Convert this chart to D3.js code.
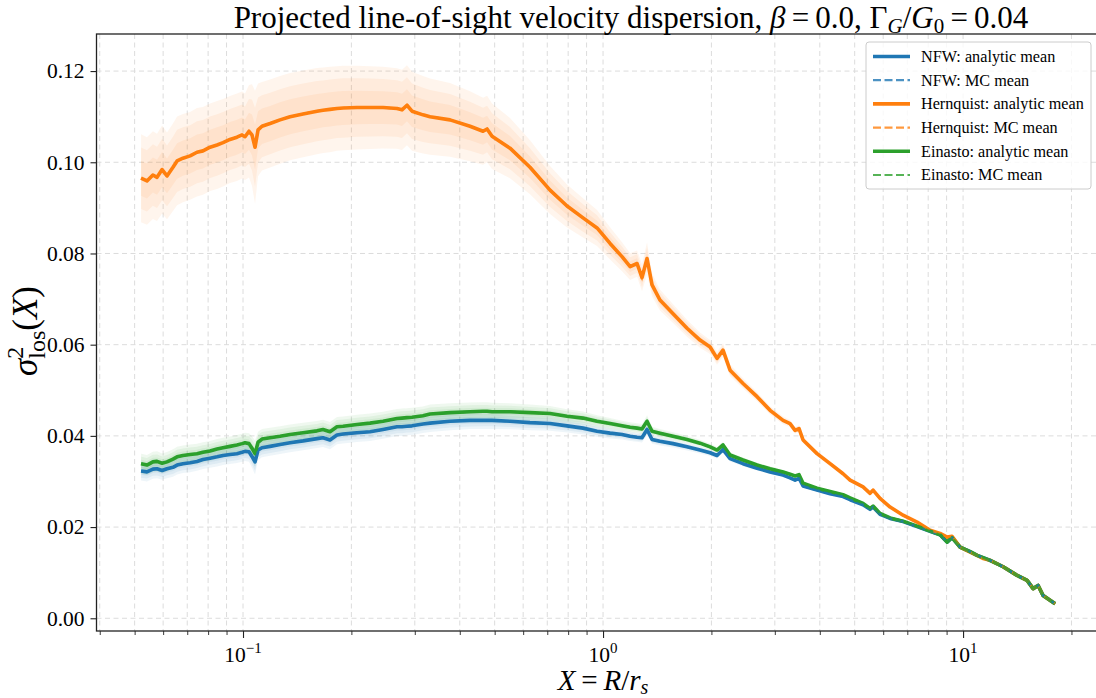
<!DOCTYPE html>
<html lang="en">
<head>
<meta charset="UTF-8">
<title>Projected line-of-sight velocity dispersion</title>
<script src="https://d3js.org/d3.v7.min.js"></script>
<style>
  * { margin: 0; padding: 0; }
  body { background: #fff; }
  svg text { font-family: "Liberation Serif", "DejaVu Serif", serif; fill: #000; }
</style>
</head>
<body>
<svg id="chart" width="1096" height="698"></svg>
<script>
// projected radius X = R/r_s
var xVals = [0.0521, 0.0541, 0.0562, 0.0577, 0.0596, 0.0615, 0.0639, 0.0656, 0.0681, 0.0713,
  0.0745, 0.0774, 0.0810, 0.0847, 0.0880, 0.0920, 0.0962, 0.0994, 0.1013, 0.1039,
  0.1059, 0.1080, 0.1101, 0.1129, 0.1189, 0.1267, 0.1351, 0.1468, 0.1605, 0.1668,
  0.1744, 0.1824, 0.1896, 0.2073, 0.2253, 0.2448, 0.2677, 0.2764, 0.2854, 0.2947,
  0.3162, 0.3307, 0.3758, 0.4271, 0.4642, 0.4763, 0.4917, 0.5516, 0.6268, 0.7125,
  0.7943, 0.8799, 0.9623, 1.046, 1.129, 1.189, 1.243, 1.283, 1.325, 1.368,
  1.439, 1.565, 1.711, 1.859, 1.983, 2.073, 2.154, 2.253, 2.448, 2.678,
  2.910, 3.162, 3.307, 3.415, 3.503, 3.594, 3.930, 4.272, 4.642, 4.855,
  5.275, 5.516, 5.623, 5.880, 6.270, 6.813, 7.451, 8.096, 8.633, 9.028,
  9.320, 9.810, 10.46, 10.94, 11.36, 11.89, 12.92, 14.13, 15.06, 15.65,
  16.16, 16.68, 18.02];

var nfwMean = [0.0323, 0.0321, 0.0327, 0.0328, 0.0324, 0.0328, 0.0331, 0.0336, 0.0339, 0.0341,
  0.0344, 0.0348, 0.0351, 0.0354, 0.0357, 0.0359, 0.0361, 0.0364, 0.0366, 0.0365,
  0.0355, 0.0343, 0.0369, 0.0374, 0.0377, 0.0381, 0.0385, 0.0389, 0.0394, 0.0396,
  0.0391, 0.0402, 0.0404, 0.0407, 0.0409, 0.0414, 0.0420, 0.0420, 0.0421, 0.0422,
  0.0426, 0.0428, 0.0432, 0.0434, 0.0434, 0.0434, 0.0434, 0.0432, 0.0429, 0.0427,
  0.0422, 0.0417, 0.0410, 0.0406, 0.0403, 0.0399, 0.0397, 0.0396, 0.0414, 0.0392,
  0.0388, 0.0383, 0.0376, 0.0369, 0.0363, 0.0357, 0.0370, 0.0350, 0.0339, 0.0329,
  0.0321, 0.0314, 0.0308, 0.0303, 0.0307, 0.0290, 0.0281, 0.0273, 0.0267, 0.0260,
  0.0249, 0.0239, 0.0244, 0.0228, 0.0219, 0.0212, 0.0201, 0.0191, 0.0183, 0.0167,
  0.0177, 0.0156, 0.0146, 0.0138, 0.0133, 0.0127, 0.0113, 0.0094, 0.0083, 0.0065,
  0.0072, 0.0050, 0.0032];

var hernMean = [0.0965, 0.0959, 0.0972, 0.0967, 0.0984, 0.0970, 0.0989, 0.1003, 0.1009, 0.1014,
  0.1022, 0.1025, 0.1033, 0.1038, 0.1043, 0.1050, 0.1055, 0.1060, 0.1056, 0.1068,
  0.1060, 0.1033, 0.1071, 0.1079, 0.1085, 0.1093, 0.1100, 0.1106, 0.1112, 0.1114,
  0.1116, 0.1118, 0.1119, 0.1120, 0.1120, 0.1120, 0.1118, 0.1115, 0.1125, 0.1112,
  0.1104, 0.1100, 0.1093, 0.1079, 0.1068, 0.1073, 0.1057, 0.1031, 0.0989, 0.0939,
  0.0904, 0.0878, 0.0856, 0.0822, 0.0793, 0.0771, 0.0778, 0.0747, 0.0789, 0.0731,
  0.0698, 0.0668, 0.0636, 0.0610, 0.0595, 0.0570, 0.0588, 0.0544, 0.0515, 0.0486,
  0.0456, 0.0434, 0.0427, 0.0412, 0.0416, 0.0391, 0.0361, 0.0339, 0.0317, 0.0303,
  0.0288, 0.0274, 0.0281, 0.0263, 0.0244, 0.0226, 0.0211, 0.0193, 0.0186, 0.0178,
  0.0180, 0.0156, 0.0145, 0.0138, 0.0131, 0.0127, 0.0113, 0.0094, 0.0083, 0.0065,
  0.0072, 0.0050, 0.0032];

var einMean = [0.0339, 0.0336, 0.0343, 0.0344, 0.0340, 0.0343, 0.0349, 0.0354, 0.0357, 0.0359,
  0.0361, 0.0364, 0.0367, 0.0371, 0.0374, 0.0377, 0.0380, 0.0383, 0.0385, 0.0383,
  0.0373, 0.0361, 0.0386, 0.0393, 0.0396, 0.0399, 0.0403, 0.0407, 0.0411, 0.0414,
  0.0409, 0.0420, 0.0421, 0.0425, 0.0428, 0.0432, 0.0438, 0.0439, 0.0440, 0.0441,
  0.0444, 0.0448, 0.0451, 0.0453, 0.0454, 0.0454, 0.0453, 0.0453, 0.0451, 0.0449,
  0.0443, 0.0439, 0.0432, 0.0427, 0.0422, 0.0419, 0.0417, 0.0415, 0.0432, 0.0410,
  0.0406, 0.0399, 0.0392, 0.0384, 0.0376, 0.0369, 0.0380, 0.0358, 0.0347, 0.0336,
  0.0328, 0.0321, 0.0316, 0.0312, 0.0315, 0.0296, 0.0285, 0.0278, 0.0271, 0.0264,
  0.0252, 0.0241, 0.0246, 0.0230, 0.0220, 0.0213, 0.0202, 0.0191, 0.0183, 0.0167,
  0.0177, 0.0156, 0.0146, 0.0138, 0.0133, 0.0127, 0.0113, 0.0094, 0.0083, 0.0065,
  0.0072, 0.0050, 0.0032];

// MC means sit on top of the analytic means at this resolution
var nfwMC = nfwMean;
var hernMC = hernMean;
var einMC = einMean;

// relative half-width of the outer MC band
var hernSpread = [0.100, 0.100, 0.099, 0.099, 0.098, 0.098, 0.097, 0.097, 0.096, 0.095,
  0.095, 0.094, 0.093, 0.093, 0.092, 0.091, 0.091, 0.090, 0.090, 0.095,
  0.105, 0.120, 0.095, 0.090, 0.089, 0.088, 0.087, 0.086, 0.085, 0.084,
  0.084, 0.083, 0.083, 0.082, 0.081, 0.080, 0.079, 0.079, 0.078, 0.078,
  0.077, 0.076, 0.074, 0.071, 0.069, 0.068, 0.068, 0.064, 0.060, 0.056,
  0.052, 0.049, 0.046, 0.043, 0.040, 0.038, 0.037, 0.040, 0.045, 0.035,
  0.033, 0.031, 0.029, 0.027, 0.026, 0.025, 0.026, 0.024, 0.022, 0.021,
  0.020, 0.019, 0.018, 0.018, 0.018, 0.017, 0.016, 0.016, 0.015, 0.015,
  0.014, 0.014, 0.014, 0.013, 0.013, 0.012, 0.012, 0.012, 0.011, 0.011,
  0.011, 0.011, 0.010, 0.010, 0.010, 0.010, 0.010, 0.010, 0.010, 0.010,
  0.010, 0.010, 0.010];

var nfwEinSpread = [0.065, 0.065, 0.064, 0.064, 0.063, 0.063, 0.062, 0.062, 0.061, 0.061,
  0.060, 0.060, 0.059, 0.059, 0.058, 0.058, 0.057, 0.057, 0.057, 0.060,
  0.070, 0.080, 0.060, 0.056, 0.055, 0.055, 0.054, 0.053, 0.052, 0.052,
  0.052, 0.051, 0.051, 0.050, 0.049, 0.049, 0.048, 0.048, 0.047, 0.047,
  0.046, 0.046, 0.045, 0.044, 0.043, 0.043, 0.043, 0.041, 0.039, 0.037,
  0.035, 0.033, 0.031, 0.029, 0.027, 0.026, 0.025, 0.027, 0.030, 0.024,
  0.023, 0.022, 0.021, 0.020, 0.019, 0.018, 0.019, 0.017, 0.016, 0.015,
  0.014, 0.014, 0.013, 0.013, 0.013, 0.013, 0.012, 0.012, 0.011, 0.011,
  0.011, 0.010, 0.010, 0.010, 0.010, 0.010, 0.009, 0.009, 0.009, 0.009,
  0.009, 0.009, 0.009, 0.008, 0.008, 0.008, 0.008, 0.008, 0.008, 0.008,
  0.008, 0.008, 0.008];

var yTicks = [0.00, 0.02, 0.04, 0.06, 0.08, 0.10, 0.12];
var xMajorTicks = [0.1, 1, 10];
var xMajorExp = ["\u22121", "0", "1"];
var xMinorTicks = [0.04, 0.05, 0.06, 0.07, 0.08, 0.09, 0.2, 0.3, 0.4, 0.5, 0.6, 0.7, 0.8, 0.9,
  2, 3, 4, 5, 6, 7, 8, 9, 20];

var profiles = [
  { name: "NFW", mean: nfwMean, mc: nfwMC, spread: nfwEinSpread, color: "#1f77b4" },
  { name: "Hernquist", mean: hernMean, mc: hernMC, spread: hernSpread, color: "#ff7f0e" },
  { name: "Einasto", mean: einMean, mc: einMC, spread: nfwEinSpread, color: "#2ca02c" }
];

var axL = 96.5, axR = 1101, axT = 34, axB = 631;

var x = d3.scaleLog().domain([0.03918, 24.16]).range([axL, axR]);
var y = d3.scaleLinear().domain([-0.00279, 0.12813]).range([axB, axT]);

var svg = d3.select("#chart");
svg.append("rect").attr("width", 1096).attr("height", 698).attr("fill", "#fff");

var defs = svg.append("defs");
defs.append("clipPath").attr("id", "plotclip").append("rect")
  .attr("x", axL).attr("y", axT).attr("width", axR - axL).attr("height", axB - axT);

// grid
var grid = svg.append("g").attr("clip-path", "url(#plotclip)");
grid.selectAll("line.gx").data(xMajorTicks.concat(xMinorTicks)).enter().append("line")
  .attr("x1", function (d) { return x(d); }).attr("x2", function (d) { return x(d); })
  .attr("y1", axT).attr("y2", axB)
  .attr("stroke", "#dcdcdc").attr("stroke-width", 1).attr("stroke-dasharray", "5,3.5");
grid.selectAll("line.gy").data(yTicks).enter().append("line")
  .attr("x1", axL).attr("x2", axR)
  .attr("y1", function (d) { return y(d); }).attr("y2", function (d) { return y(d); })
  .attr("stroke", "#dcdcdc").attr("stroke-width", 1).attr("stroke-dasharray", "5,3.5");

var plot = svg.append("g").attr("clip-path", "url(#plotclip)");
var idx = d3.range(xVals.length);

// bands
var bandLayers = [1.0, 0.7, 0.4];
profiles.forEach(function (p) {
  bandLayers.forEach(function (k) {
    var area = d3.area()
      .x(function (i) { return x(xVals[i]); })
      .y0(function (i) { return y(p.mean[i] * (1 - p.spread[i] * k)); })
      .y1(function (i) { return y(p.mean[i] * (1 + p.spread[i] * k)); });
    plot.append("path").datum(idx).attr("d", area)
      .attr("fill", p.color).attr("fill-opacity", 0.075).attr("stroke", "none");
  });
});

function lineOf(arr) {
  return d3.line()
    .x(function (i) { return x(xVals[i]); })
    .y(function (i) { return y(arr[i]); })(idx);
}

profiles.forEach(function (p) {
  plot.append("path").attr("d", lineOf(p.mean))
    .attr("fill", "none").attr("stroke", p.color).attr("stroke-width", 3.6)
    .attr("stroke-linejoin", "round").attr("stroke-linecap", "butt");
});
profiles.forEach(function (p) {
  plot.append("path").attr("d", lineOf(p.mc))
    .attr("fill", "none").attr("stroke", p.color).attr("stroke-opacity", 0.8)
    .attr("stroke-width", 2.2).attr("stroke-dasharray", "8,3.5");
});

// axes
var yAxis = svg.append("g").attr("transform", "translate(" + axL + ",0)")
  .call(d3.axisLeft(y).tickValues(yTicks).tickSize(6).tickPadding(6).tickFormat(d3.format(".2f")));
yAxis.select(".domain").remove();
yAxis.selectAll("text").attr("font-size", 21.5).attr("font-family", "Liberation Serif").attr("fill", "#000");
yAxis.selectAll("line").attr("stroke", "#222").attr("stroke-width", 1.1);

var xAxis = svg.append("g").attr("transform", "translate(0," + axB + ")")
  .call(d3.axisBottom(x).tickValues(xMajorTicks).tickSize(7).tickFormat(""));
xAxis.select(".domain").remove();
xAxis.selectAll("line").attr("stroke", "#222").attr("stroke-width", 1.1);
var xMinorAxis = svg.append("g").attr("transform", "translate(0," + axB + ")")
  .call(d3.axisBottom(x).tickValues(xMinorTicks).tickSize(4).tickFormat(""));
xMinorAxis.select(".domain").remove();
xMinorAxis.selectAll("line").attr("stroke", "#222").attr("stroke-width", 0.9);

var xl = svg.append("g").selectAll("text").data(xMajorTicks).enter().append("text")
  .attr("x", function (d) { return x(d); }).attr("y", 662)
  .attr("text-anchor", "middle").attr("font-size", 21.5);
xl.append("tspan").text("10");
xl.append("tspan").attr("dy", -9).attr("font-size", 15)
  .text(function (d, i) { return xMajorExp[i]; });

// spines
svg.append("rect").attr("x", axL).attr("y", axT).attr("width", axR - axL).attr("height", axB - axT)
  .attr("fill", "none").attr("stroke", "#222").attr("stroke-width", 1.3);

// title
var title = svg.append("text").attr("x", 631).attr("y", 28).attr("text-anchor", "middle").attr("font-size", 31);
title.append("tspan").text("Projected line-of-sight velocity dispersion, ");
title.append("tspan").attr("font-style", "italic").text("\u03b2");
title.append("tspan").text("\u2009=\u20090.0, \u0393");
title.append("tspan").attr("font-style", "italic").attr("font-size", 21).attr("dy", 5).text("G");
title.append("tspan").attr("dy", -5).text("/");
title.append("tspan").attr("font-style", "italic").text("G");
title.append("tspan").attr("font-size", 21).attr("dy", 5).text("0");
title.append("tspan").attr("dy", -5).text("\u2009=\u20090.04");

// x label
var xlab = svg.append("text").attr("x", 603).attr("y", 690).attr("text-anchor", "middle").attr("font-size", 29);
xlab.append("tspan").attr("font-style", "italic").text("X");
xlab.append("tspan").text("\u2009=\u2009");
xlab.append("tspan").attr("font-style", "italic").text("R");
xlab.append("tspan").text("/");
xlab.append("tspan").attr("font-style", "italic").text("r");
xlab.append("tspan").attr("font-style", "italic").attr("font-size", 20).attr("dy", 4).text("s");

// y label
var ylab = svg.append("text").attr("transform", "translate(37,331) rotate(-90)")
  .attr("text-anchor", "middle").attr("font-size", 35);
ylab.append("tspan").attr("font-style", "italic").text("\u03c3");
ylab.append("tspan").attr("font-size", 24).attr("dy", -14).text("2");
ylab.append("tspan").attr("font-size", 24).attr("dx", -12).attr("dy", 22).text("los");
ylab.append("tspan").attr("dy", -8).text("(");
ylab.append("tspan").attr("font-style", "italic").text("X");
ylab.append("tspan").text(")");

// legend
var legendLabels = ["NFW: analytic mean", "NFW: MC mean", "Hernquist: analytic mean",
  "Hernquist: MC mean", "Einasto: analytic mean", "Einasto: MC mean"];
var lg = svg.append("g");
lg.append("rect").attr("x", 866).attr("y", 42).attr("width", 225).attr("height", 147).attr("rx", 3)
  .attr("fill", "#fff").attr("fill-opacity", 0.8).attr("stroke", "#cccccc").attr("stroke-width", 1);
legendLabels.forEach(function (lab, i) {
  var p = profiles[Math.floor(i / 2)];
  var yy = 56.5 + i * 23.7;
  var ln = lg.append("line").attr("x1", 873).attr("x2", 910).attr("y1", yy).attr("y2", yy)
    .attr("stroke", p.color);
  if (i % 2 === 0) {
    ln.attr("stroke-width", 3.6);
  } else {
    ln.attr("stroke-width", 2.2).attr("stroke-opacity", 0.8).attr("stroke-dasharray", "8,3.5");
  }
  lg.append("text").attr("x", 921).attr("y", yy).attr("dy", "0.33em").attr("font-size", 16.2).text(lab);
});
</script>
</body>
</html>
